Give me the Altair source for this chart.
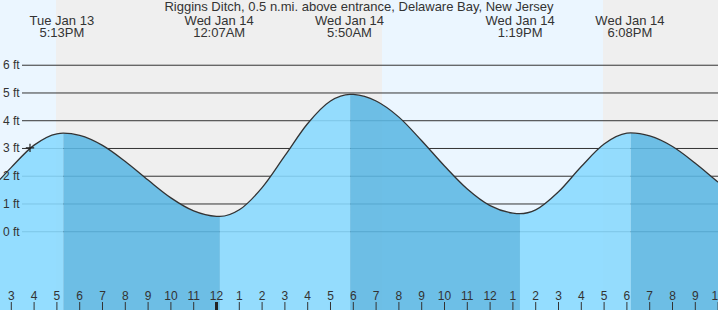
import altair as alt
import pandas as pd

# ---------------- data (hours relative to midnight Jan 14) ----------------
title_text = "Riggins Ditch, 0.5 n.mi. above entrance, Delaware Bay, New Jersey"

# tide height curve (hourly + turning points)
tide_hours = [-10, -9, -8, -7, -6.72, -6, -5, -4, -3, -2, -1, 0, 0.15,
              1, 2, 3, 4, 5, 5.86, 6, 7, 8, 9, 10, 11, 12, 13, 13.31,
              14, 15, 16, 17, 18, 18.17, 19, 20, 21, 22, 22.5]
tide_feet = [1.43, 2.32, 3.12, 3.53, 3.55, 3.47, 3.11, 2.53, 1.86, 1.22, 0.75, 0.554, 0.55,
             0.79, 1.59, 2.74, 3.90, 4.71, 4.95, 4.946, 4.71, 4.13, 3.28, 2.37, 1.54, 0.94, 0.67, 0.65,
             0.79, 1.44, 2.35, 3.16, 3.55, 3.56, 3.45, 3.07, 2.47, 1.79, 1.46]
turn_hours = [-6.72, 0.15, 5.86, 13.31, 18.17]

# high / low labels
extreme_hours = [-6.783, 0.117, 5.833, 13.317, 18.133]
extreme_days = ["Tue Jan 13", "Wed Jan 14", "Wed Jan 14", "Wed Jan 14", "Wed Jan 14"]
extreme_times = ["5:13PM", "12:07AM", "5:50AM", "1:19PM", "6:08PM"]

now_hour = [-8.18]
now_feet = [3.02]

shade_start = [-10.0, -7.04, 7.26, 16.95]
shade_end = [-7.04, 7.26, 16.95, 23.0]
shade_kind = ["day", "night", "day", "night"]

grid_levels = [0, 1, 2, 3, 4, 5, 6]
grid_labels = ["0 ft", "1 ft", "2 ft", "3 ft", "4 ft", "5 ft", "6 ft"]

tick_hours = list(range(-9, 23))
tick_labels = ["3", "4", "5", "6", "7", "8", "9", "10", "11", "12",
               "1", "2", "3", "4", "5", "6", "7", "8", "9", "10", "11", "12",
               "1", "2", "3", "4", "5", "6", "7", "8", "9", "10"]
midnight_hours = [0]

# ---------------- scales ----------------
W, H = 718, 310
X_DOM = [-9.4956, 21.9956]
Y_DOM = [-2.82, 8.35]
xs = alt.Scale(domain=X_DOM, nice=False, zero=False)
ys = alt.Scale(domain=Y_DOM, nice=False, zero=False)
FONT = "Liberation Sans"
TXT = "#333333"

# ---------------- tables ----------------
tide = pd.DataFrame({"h": tide_hours, "ft": tide_feet})
bounds = [min(tide_hours)] + turn_hours + [max(tide_hours)]
rows = []
for i in range(len(bounds) - 1):
    a, b = bounds[i], bounds[i + 1]
    phase = "rising" if i % 2 == 0 else "falling"
    for h, f in zip(tide_hours, tide_feet):
        if a <= h <= b:
            rows.append({"h": h, "ft": f, "base": Y_DOM[0], "seg": i, "phase": phase})
segs = pd.DataFrame(rows)

extremes = pd.DataFrame({"h": extreme_hours, "day": extreme_days, "time": extreme_times})
now = pd.DataFrame({"h": now_hour, "ft": now_feet})
shade = pd.DataFrame({"s": shade_start, "e": shade_end, "kind": shade_kind})
grid = pd.DataFrame({"ft": grid_levels, "label": grid_labels})
ticks = pd.DataFrame({"h": tick_hours, "label": tick_labels})
mid = pd.DataFrame({"h": midnight_hours})

bg = alt.Chart(shade).mark_rect(clip=True).encode(
    x=alt.X("s:Q", scale=xs, axis=None),
    x2="e:Q",
    y=alt.value(0), y2=alt.value(H),
    color=alt.Color("kind:N", scale=alt.Scale(domain=["day", "night"],
                    range=["#ebf6ff", "#efefef"]), legend=None),
)

gridlines = alt.Chart(grid).mark_rule(color="#333333", strokeWidth=1).encode(
    y=alt.Y("ft:Q", scale=ys, axis=None),
    x=alt.value(22), x2=alt.value(W),
)

area = alt.Chart(segs).mark_area(interpolate="monotone", opacity=0.88, clip=True).encode(
    x=alt.X("h:Q", scale=xs, axis=None),
    y=alt.Y("ft:Q", scale=ys, axis=None),
    y2="base:Q",
    fill=alt.Fill("phase:N", scale=alt.Scale(domain=["rising", "falling"],
                  range=["#88d9ff", "#5bb7e4"]), legend=None),
    detail="seg:N",
)

curve = alt.Chart(tide).mark_line(interpolate="monotone", color="#333333",
                                  strokeWidth=1.3, clip=True).encode(
    x=alt.X("h:Q", scale=xs, axis=None),
    y=alt.Y("ft:Q", scale=ys, axis=None),
)

marker = alt.Chart(now).mark_point(shape="M-1,0H1M0,-1V1", size=70, filled=False,
                                   color="#222222", strokeWidth=1.2, opacity=1).encode(
    x=alt.X("h:Q", scale=xs, axis=None),
    y=alt.Y("ft:Q", scale=ys, axis=None),
)

ftlabels = alt.Chart(grid).mark_text(align="left", baseline="alphabetic", dy=4,
                                     font=FONT, fontSize=12, color=TXT).encode(
    y=alt.Y("ft:Q", scale=ys, axis=None),
    x=alt.value(3),
    text="label:N",
)

tickmarks = alt.Chart(ticks).mark_rule(color="#333333", strokeWidth=1).encode(
    x=alt.X("h:Q", scale=xs, axis=None),
    y=alt.value(302), y2=alt.value(H),
)

midmark = alt.Chart(mid).mark_rule(color="#222222", strokeWidth=3).encode(
    x=alt.X("h:Q", scale=xs, axis=None),
    y=alt.value(302), y2=alt.value(H),
)

ticklabels = alt.Chart(ticks).mark_text(align="center", baseline="alphabetic",
                                        font=FONT, fontSize=12, color=TXT).encode(
    x=alt.X("h:Q", scale=xs, axis=None),
    y=alt.value(299.5),
    text="label:N",
)

daylab = alt.Chart(extremes).mark_text(align="center", baseline="alphabetic",
                                       font=FONT, fontSize=13, color=TXT).encode(
    x=alt.X("h:Q", scale=xs, axis=None),
    y=alt.value(25),
    text="day:N",
)
timelab = alt.Chart(extremes).mark_text(align="center", baseline="alphabetic",
                                        font=FONT, fontSize=13, color=TXT).encode(
    x=alt.X("h:Q", scale=xs, axis=None),
    y=alt.value(36.5),
    text="time:N",
)

title = alt.Chart(pd.DataFrame({"t": [title_text]})).mark_text(
    align="center", baseline="alphabetic", font=FONT, fontSize=13, color=TXT).encode(
    x=alt.value(359), y=alt.value(11), text="t:N")

chart = alt.layer(bg, gridlines, area, curve, marker, ftlabels, tickmarks, midmark,
                  ticklabels, daylab, timelab, title).properties(
    width=W, height=H, padding=0, autosize=alt.AutoSizeParams(type="none"),
).configure_view(strokeWidth=0)

chart.save("out.html", embed_options={"renderer": "svg", "actions": False})
